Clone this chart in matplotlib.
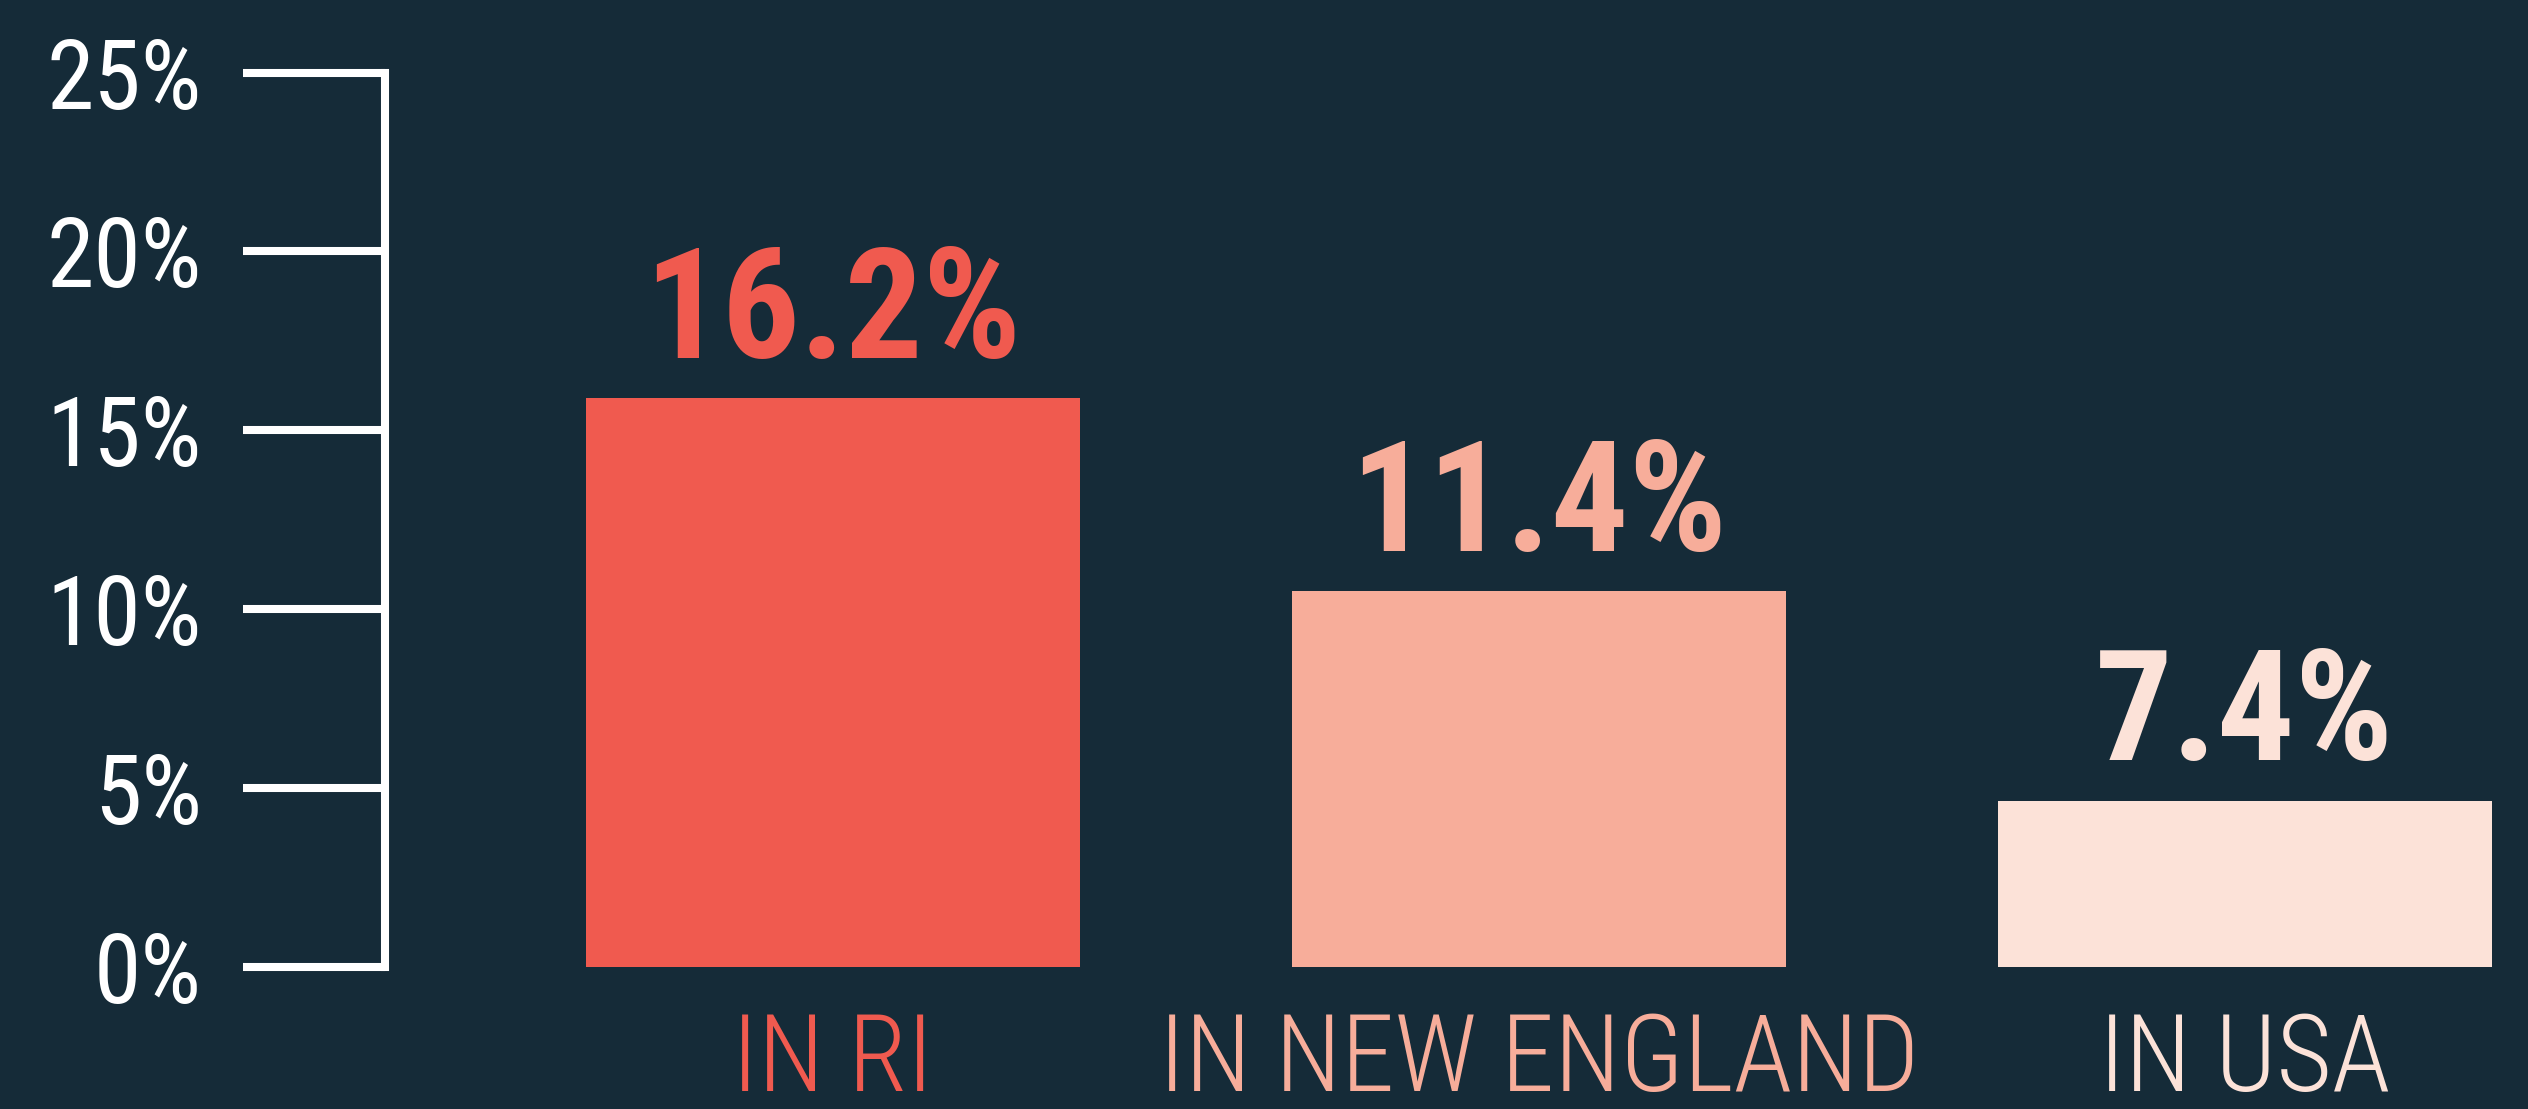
import matplotlib
matplotlib.use("Agg")
import matplotlib.pyplot as plt
import matplotlib.transforms as mtransforms

# data
categories = ["IN RI", "IN NEW ENGLAND", "IN USA"]
bar_heights = [15.9, 10.5, 4.65]          # heights as drawn in the picture
value_labels = ["16.2%", "11.4%", "7.4%"]
y_ticks = [0, 5, 10, 15, 20, 25]
y_tick_labels = ["0%", "5%", "10%", "15%", "20%", "25%"]

BG = "#152b38"
bar_colors = ["#f05a4f", "#f7ad9a", "#fce2d8"]
FONT = ["Roboto Condensed", "DejaVu Sans"]

plt.rcParams["font.family"] = FONT

W, H, DPI = 2528, 1109, 100
fig = plt.figure(figsize=(W / DPI, H / DPI), dpi=DPI, facecolor=BG)

# axes placed in pixel terms: spine at x=385, 0% at y=967, 25% at y=72.5
left = 385 / W
bottom = (H - 967) / H
top = (H - 72.5) / H
ax = fig.add_axes([left, bottom, 1 - left, top - bottom])
ax.set_facecolor(BG)

x = list(range(len(categories)))
ax.bar(x, bar_heights, width=0.70, color=bar_colors, zorder=2)

ax.set_xlim(-0.634, 2.401)
ax.set_ylim(0, 25)

for s in ["top", "right", "bottom"]:
    ax.spines[s].set_visible(False)
ax.spines["left"].set_color("white")
ax.spines["left"].set_linewidth(5.8)
ax.spines["left"].set_capstyle("projecting")

ax.set_yticks(y_ticks)
ax.set_yticklabels(y_tick_labels)
ax.tick_params(axis="y", direction="out", length=102, width=5.8, color="white",
               pad=30, labelsize=69, labelcolor="white")
ax.set_xticks([])

# value labels above bars
for xi, h, lab, c in zip(x, bar_heights, value_labels, bar_colors):
    ax.annotate(lab, xy=(xi, h), xytext=(0, 29), textcoords="offset points",
                ha="center", va="baseline", fontsize=111, fontweight="bold",
                color=c, family=FONT)

# category labels below
trans = mtransforms.blended_transform_factory(ax.transData, fig.transFigure)
for xi, cat, c in zip(x, categories, bar_colors):
    ax.text(xi, (H - 1091) / H, cat, transform=trans, ha="center", va="baseline",
            fontsize=77, fontweight="light", color=c, family=FONT)

fig.savefig("out.png", dpi=DPI, facecolor=BG)
